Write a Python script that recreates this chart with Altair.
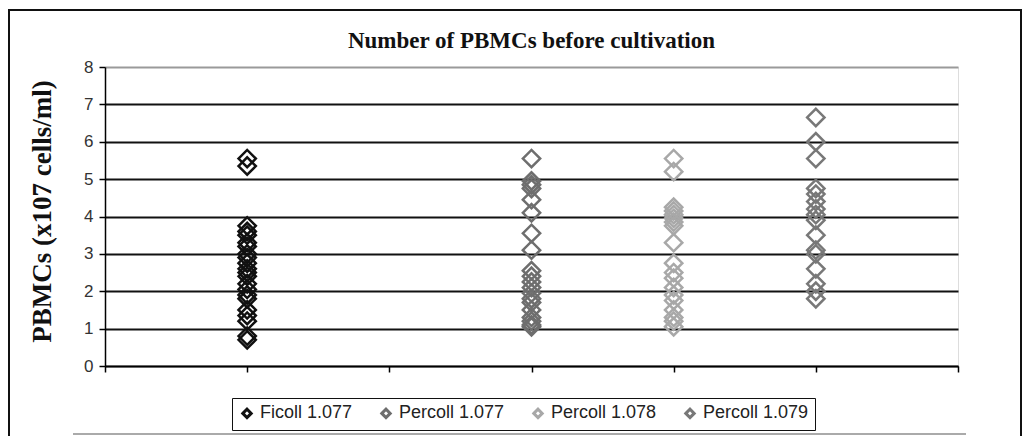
import altair as alt
import pandas as pd

groups = ["Ficoll 1.077", "Percoll 1.077", "Percoll 1.078", "Percoll 1.079"]
positions = [1, 3, 4, 5]
colors = ["#111111", "#6e6e6e", "#a8a8a8", "#787878"]

ficoll_1077 = [5.55, 5.35, 3.75, 3.6, 3.5, 3.3, 3.2, 3.0, 2.9, 2.75, 2.6, 2.5,
               2.4, 2.2, 2.05, 1.9, 1.8, 1.5, 1.35, 1.2, 0.8, 0.7]
percoll_1077 = [5.55, 4.95, 4.85, 4.75, 4.45, 4.1, 3.55, 3.1, 2.55, 2.4, 2.25,
                2.1, 1.95, 1.8, 1.7, 1.5, 1.3, 1.2, 1.1, 1.05]
percoll_1078 = [5.55, 5.2, 4.25, 4.15, 4.05, 3.95, 3.85, 3.75, 3.3, 2.75, 2.5,
                2.35, 2.1, 1.9, 1.75, 1.5, 1.3, 1.2, 1.05]
percoll_1079 = [6.65, 6.0, 5.55, 4.75, 4.6, 4.4, 4.2, 4.05, 3.9, 3.5, 3.1, 3.0,
                2.6, 2.2, 2.0, 1.8]

series = [ficoll_1077, percoll_1077, percoll_1078, percoll_1079]
rows = []
for g, p, vals in zip(groups, positions, series):
    for v in vals:
        rows.append({"group": g, "pos": p, "value": v})
df = pd.DataFrame(rows)

W, H = 853, 299

points = alt.Chart(df).mark_point(
    shape="diamond", filled=False, size=300, strokeWidth=2.5, opacity=1
).encode(
    x=alt.X("pos:Q", scale=alt.Scale(domain=[0, 6], nice=False),
            axis=alt.Axis(values=[0, 1, 2, 3, 4, 5, 6], labels=False, title=None,
                          grid=False, domainColor="#000000", domainWidth=1.5,
                          tickColor="#000000", tickSize=6, tickWidth=1.5)),
    y=alt.Y("value:Q", scale=alt.Scale(domain=[0, 8], nice=False),
            axis=alt.Axis(values=[0, 1, 2, 3, 4, 5, 6, 7, 8],
                          title="PBMCs (x107 cells/ml)",
                          titleFont="Liberation Serif", titleFontWeight="bold",
                          titleFontSize=27, titleColor="#111111", titlePadding=27,
                          titleY=144,
                          labelFont="Liberation Sans", labelFontSize=17,
                          labelColor="#333333", labelPadding=6,
                          domainColor="#000000", domainWidth=1.5,
                          tickColor="#000000", tickSize=6, tickWidth=1.5,
                          grid=True,
                          gridColor=alt.condition("datum.value == 8",
                                                  alt.value("#9a9a9a"),
                                                  alt.value("#111111")),
                          gridWidth=1.8)),
    color=alt.Color("group:N",
                    scale=alt.Scale(domain=groups, range=colors),
                    legend=alt.Legend(title=None, orient="none",
                                      legendX=127, legendY=331,
                                      direction="horizontal",
                                      symbolType="diamond", symbolSize=70,
                                      symbolStrokeWidth=3,
                                      symbolFillColor="white",
                                      labelFont="Liberation Sans",
                                      labelFontSize=18, labelColor="#222222",
                                      columnPadding=22, padding=6,
                                      strokeColor="#111111",
                                      fillColor="white", labelOffset=4)),
)

frame = alt.Chart(df).mark_rect(
    fill=None, stroke="#111111", strokeWidth=2
).encode(
    x=alt.value(-96), x2=alt.value(916), y=alt.value(-57), y2=alt.value(400)
)

bottom_line = alt.Chart(df).mark_rule(color="#aaaaaa", strokeWidth=2).encode(
    x=alt.value(-32), x2=alt.value(861), y=alt.value(367)
)

chart = alt.layer(frame, bottom_line, points).properties(
    width=W, height=H,
    title=alt.Title("Number of PBMCs before cultivation",
                    font="Liberation Serif", fontWeight="bold", fontSize=23,
                    color="#111111", anchor="middle", frame="group", offset=-44),
    autosize=alt.AutoSizeParams(type="none"),
    padding={"left": 97, "top": 59, "right": 64, "bottom": 70},
).configure_view(
    fill="#c8c8c8", stroke="#8a8a8a", strokeWidth=1
).configure(background="white")

chart.save("out.html", embed_options={"renderer": "svg", "actions": False})
